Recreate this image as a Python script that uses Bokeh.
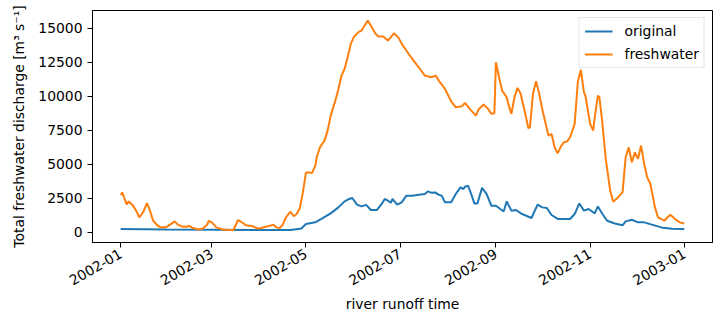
import math
from datetime import datetime, timedelta
from bokeh.plotting import figure
from bokeh.models import Range1d, FixedTicker, DatetimeTickFormatter, Legend, LegendItem, BasicTickFormatter
from bokeh.embed import file_html
from bokeh.resources import INLINE

BASE = datetime(2002, 1, 1)

# freshwater series: day offset from 2002-01-01 and discharge (m3/s)
fresh_days = [0, 1, 3, 4, 5, 7, 8, 10, 12, 14, 15, 17, 19, 21, 24, 26, 30, 32, 35, 37,
              40, 43, 44, 47, 50, 53, 56, 57, 59, 62, 66, 71, 73, 76, 79, 81, 85, 89, 91, 94,
              96, 99, 101, 103, 105, 107, 110, 112, 114, 116, 118, 120, 122, 124, 126, 127, 129, 132, 134, 136,
              139, 141, 143, 145, 147, 149, 151, 154, 156, 158, 160, 162, 165, 167, 170, 173, 175, 177, 180, 182,
              185, 188, 193, 197, 201, 204, 206, 210, 214, 217, 221, 223, 226, 230, 232, 235, 238, 240, 242, 243,
              245, 247, 250, 251, 253, 255, 257, 259, 262, 264, 265, 267, 269, 271, 273, 277, 279, 281, 283, 285,
              287, 289, 291, 294, 296, 298, 300, 301, 304, 306, 307, 309, 310, 312, 314, 317, 319, 322, 325, 327,
              329, 331, 333, 335, 337, 339, 341, 343, 346, 348, 352, 354, 356, 359, 362, 365]
fresh_vals = [2750, 2940, 2330, 2040, 2280, 2090, 1960, 1600, 1100, 1400, 1600, 2160, 1600, 860, 490, 370, 420, 570, 810, 570,
              420, 420, 490, 320, 220, 270, 570, 840, 740, 370, 220, 180, 180, 910, 710, 520, 470, 290, 320, 420,
              470, 570, 370, 320, 570, 1100, 1520, 1190, 1350, 1780, 2940, 4410, 4410, 4370, 4900, 5520, 6250, 6740, 7480, 8580,
              9680, 10540, 11520, 12020, 12870, 13850, 14340, 14710, 14830, 15200, 15570, 15200, 14590, 14390, 14390, 14100, 14340, 14630, 14290, 13850,
              13360, 12870, 12130, 11520, 11400, 11520, 11150, 10540, 9630, 9190, 9270, 9520, 9070, 8580, 9070, 9390, 9070, 8710, 8750, 12500,
              11400, 10420, 9930, 9440, 8710, 9930, 10620, 10180, 8710, 7650, 7720, 10180, 11100, 10180, 9070, 7110, 7240, 6250, 5810, 6300,
              6620, 6670, 6990, 7970, 11030, 11940, 10290, 10020, 7970, 7480, 8460, 10050, 9930, 7970, 5520, 3070, 2260, 2570, 2940, 5520,
              6250, 5150, 5880, 5400, 6380, 5030, 4040, 3560, 1840, 1100, 860, 1100, 1300, 990, 740, 660]

# original series
orig_days = [0, 30, 60, 90, 105, 110, 117, 120, 126, 130, 136, 141, 145, 148, 150, 153, 156, 159, 162, 166,
             169, 171, 173, 175, 176, 179, 182, 185, 189, 193, 197, 199, 201, 204, 205, 208, 210, 214, 217, 220,
             222, 223, 225, 227, 229, 231, 234, 237, 240, 243, 248, 250, 253, 256, 260, 266, 270, 273, 276, 279,
             283, 291, 294, 297, 300, 303, 307, 309, 312, 315, 320, 325, 327, 331, 335, 339, 344, 350, 357, 365]
orig_vals = [250, 220, 200, 180, 170, 170, 290, 620, 740, 990, 1400, 1840, 2280, 2460, 2530, 2040, 1910, 2020, 1650, 1650,
             2090, 2460, 2330, 2180, 2460, 2040, 2210, 2700, 2700, 2770, 2820, 3020, 2920, 2940, 2820, 2680, 2210, 2210, 2820, 3310,
             3190, 3360, 3430, 2820, 2130, 2130, 3270, 2820, 1960, 1960, 1540, 2280, 1600, 1650, 1350, 1060, 2040, 1840, 1790, 1280,
             990, 990, 1350, 2130, 1600, 1720, 1400, 1910, 1350, 860, 660, 520, 810, 930, 740, 740, 570, 370, 270, 250]

tick_labels = ["2002-01", "2002-03", "2002-05", "2002-07", "2002-09", "2002-11", "2003-01"]
y_ticks = [0, 2500, 5000, 7500, 10000, 12500, 15000]

fresh_t = [BASE + timedelta(days=d) for d in fresh_days]
orig_t = [BASE + timedelta(days=d) for d in orig_days]

t0, t1 = BASE, BASE + timedelta(days=365)
span = t1 - t0
xr = Range1d(start=t0 - span * 0.05, end=t1 + span * 0.05)
yr = Range1d(start=-740, end=16300)

FONT = "DejaVu Sans"
FS = "13.9px"

p = figure(width=721, height=321, x_axis_type="datetime", x_range=xr, y_range=yr,
           output_backend="svg", toolbar_location=None,
           min_border_left=92, min_border_right=9, min_border_top=10, min_border_bottom=79)
p.background_fill_color = "white"
p.border_fill_color = "white"
p.outline_line_color = "black"
p.outline_line_width = 1
p.grid.visible = False

r1 = p.line(orig_t, orig_vals, line_color="#1f77b4", line_width=2)
r2 = p.line(fresh_t, fresh_vals, line_color="#ff7f0e", line_width=2)

tick_ms = [(datetime.strptime(s, "%Y-%m") - datetime(1970, 1, 1)).total_seconds() * 1000 for s in tick_labels]
xa = p.xaxis[0]
xa.ticker = FixedTicker(ticks=tick_ms)
fmt = "%Y-%m"
xa.formatter = DatetimeTickFormatter(milliseconds=fmt, seconds=fmt, minsec=fmt, minutes=fmt, hourmin=fmt,
                                     hours=fmt, days=fmt, months=fmt, years=fmt)
xa.major_label_orientation = math.pi / 6
xa.axis_label = "river runoff time"

ya = p.yaxis[0]
ya.ticker = FixedTicker(ticks=y_ticks)
ya.formatter = BasicTickFormatter(use_scientific=False)
ya.axis_label = "Total freshwater discharge [m³ s⁻¹]"

for ax in (xa, ya):
    ax.axis_line_color = "black"
    ax.major_tick_line_color = "black"
    ax.major_tick_out = 5
    ax.major_tick_in = 0
    ax.minor_tick_line_color = None
    ax.major_label_text_font = FONT
    ax.major_label_text_font_size = FS
    ax.major_label_text_color = "black"
    ax.major_label_standoff = 5
    ax.axis_label_text_font = FONT
    ax.axis_label_text_font_size = FS
    ax.axis_label_text_font_style = "normal"
    ax.axis_label_text_color = "black"
xa.axis_label_standoff = 3
ya.axis_label_standoff = 8

legend = Legend(items=[LegendItem(label="original", renderers=[r1]),
                       LegendItem(label="freshwater", renderers=[r2])],
                location="top_right")
legend.label_text_font = FONT
legend.label_text_font_size = FS
legend.label_text_color = "black"
legend.glyph_width = 28
legend.glyph_height = 14
legend.label_height = 14
legend.label_standoff = 12
legend.spacing = 7
legend.padding = 5
legend.margin = 7
legend.border_line_color = "#cccccc"
legend.border_line_width = 1
legend.background_fill_color = "white"
legend.background_fill_alpha = 0.8
p.add_layout(legend, "center")

open("out.html", "w").write(file_html(p, INLINE))
